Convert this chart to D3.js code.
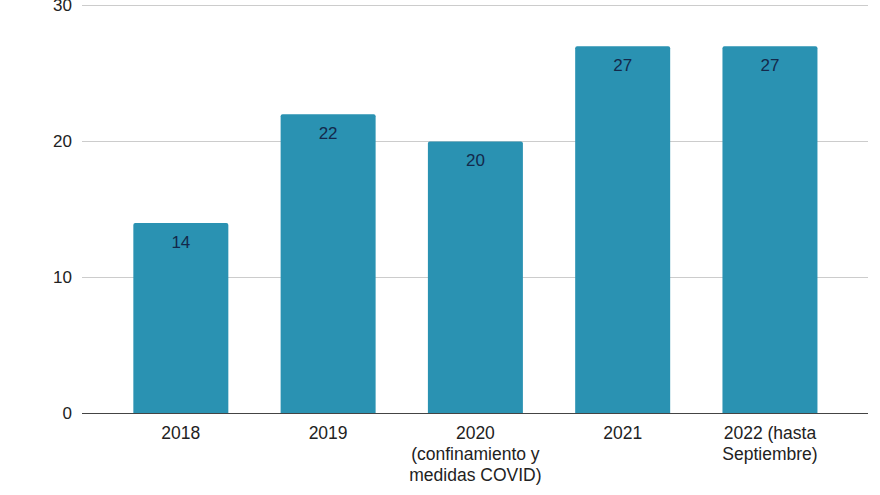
<!DOCTYPE html>
<html>
<head>
<meta charset="utf-8">
<script src="https://cdn.jsdelivr.net/npm/d3@7"></script>
<style>
  body { margin: 0; background: #fff; }
  text { font-family: "Liberation Sans", Arial, sans-serif; }
</style>
</head>
<body>
<div id="chart"></div>
<script>
const categories = [
  ["2018"],
  ["2019"],
  ["2020", "(confinamiento y", "medidas COVID)"],
  ["2021"],
  ["2022 (hasta", "Septiembre)"]
];
const values = [14, 22, 20, 27, 27];
const yTicks = [0, 10, 20, 30];

const W = 880, H = 495;
const svg = d3.select("#chart").append("svg")
  .attr("width", W)
  .attr("height", H);

const keys = categories.map(d => d.join(" "));

const x = d3.scaleBand()
  .domain(keys)
  .range([107.2, 843.6])
  .paddingInner(0.355)
  .paddingOuter(0.1775);

const y = d3.scaleLinear()
  .domain([0, 30])
  .range([413.5, 5.5]);

// gridlines
svg.append("g")
  .selectAll("line")
  .data(yTicks.filter(d => d > 0))
  .join("line")
  .attr("x1", 82)
  .attr("x2", 868)
  .attr("y1", d => y(d))
  .attr("y2", d => y(d))
  .attr("stroke", "#cccccc")
  .attr("stroke-width", 1);

// y labels
svg.append("g")
  .selectAll("text")
  .data(yTicks)
  .join("text")
  .attr("x", 72)
  .attr("y", d => y(d))
  .attr("dy", "0.35em")
  .attr("text-anchor", "end")
  .attr("font-size", 17)
  .attr("fill", "#222")
  .text(d => d);

// bars with slightly rounded top corners
const r = 2;
svg.append("g")
  .selectAll("path")
  .data(values)
  .join("path")
  .attr("fill", "#2a92b2")
  .attr("d", (d, i) => {
    const x0 = x(keys[i]), x1 = x0 + x.bandwidth();
    const y0 = y(0), y1 = y(d);
    return `M${x0},${y0}V${y1 + r}Q${x0},${y1} ${x0 + r},${y1}H${x1 - r}Q${x1},${y1} ${x1},${y1 + r}V${y0}Z`;
  });

// value labels
svg.append("g")
  .selectAll("text")
  .data(values)
  .join("text")
  .attr("x", (d, i) => x(keys[i]) + x.bandwidth() / 2)
  .attr("y", d => y(d) + 18.5)
  .attr("dy", "0.35em")
  .attr("text-anchor", "middle")
  .attr("font-size", 17)
  .attr("fill", "#13294b")
  .text(d => d);

// baseline
svg.append("line")
  .attr("x1", 82)
  .attr("x2", 868)
  .attr("y1", y(0))
  .attr("y2", y(0))
  .attr("stroke", "#444")
  .attr("stroke-width", 1.2);

// category labels
const xl = svg.append("g")
  .selectAll("text")
  .data(categories)
  .join("text")
  .attr("x", (d, i) => x(keys[i]) + x.bandwidth() / 2)
  .attr("y", 433)
  .attr("text-anchor", "middle")
  .attr("font-size", 17.5)
  .attr("fill", "#222");

xl.selectAll("tspan")
  .data(d => d)
  .join("tspan")
  .attr("x", function () { return d3.select(this.parentNode).attr("x"); })
  .attr("dy", (d, i) => i === 0 ? "0.35em" : "21")
  .text(d => d);
</script>
</body>
</html>
